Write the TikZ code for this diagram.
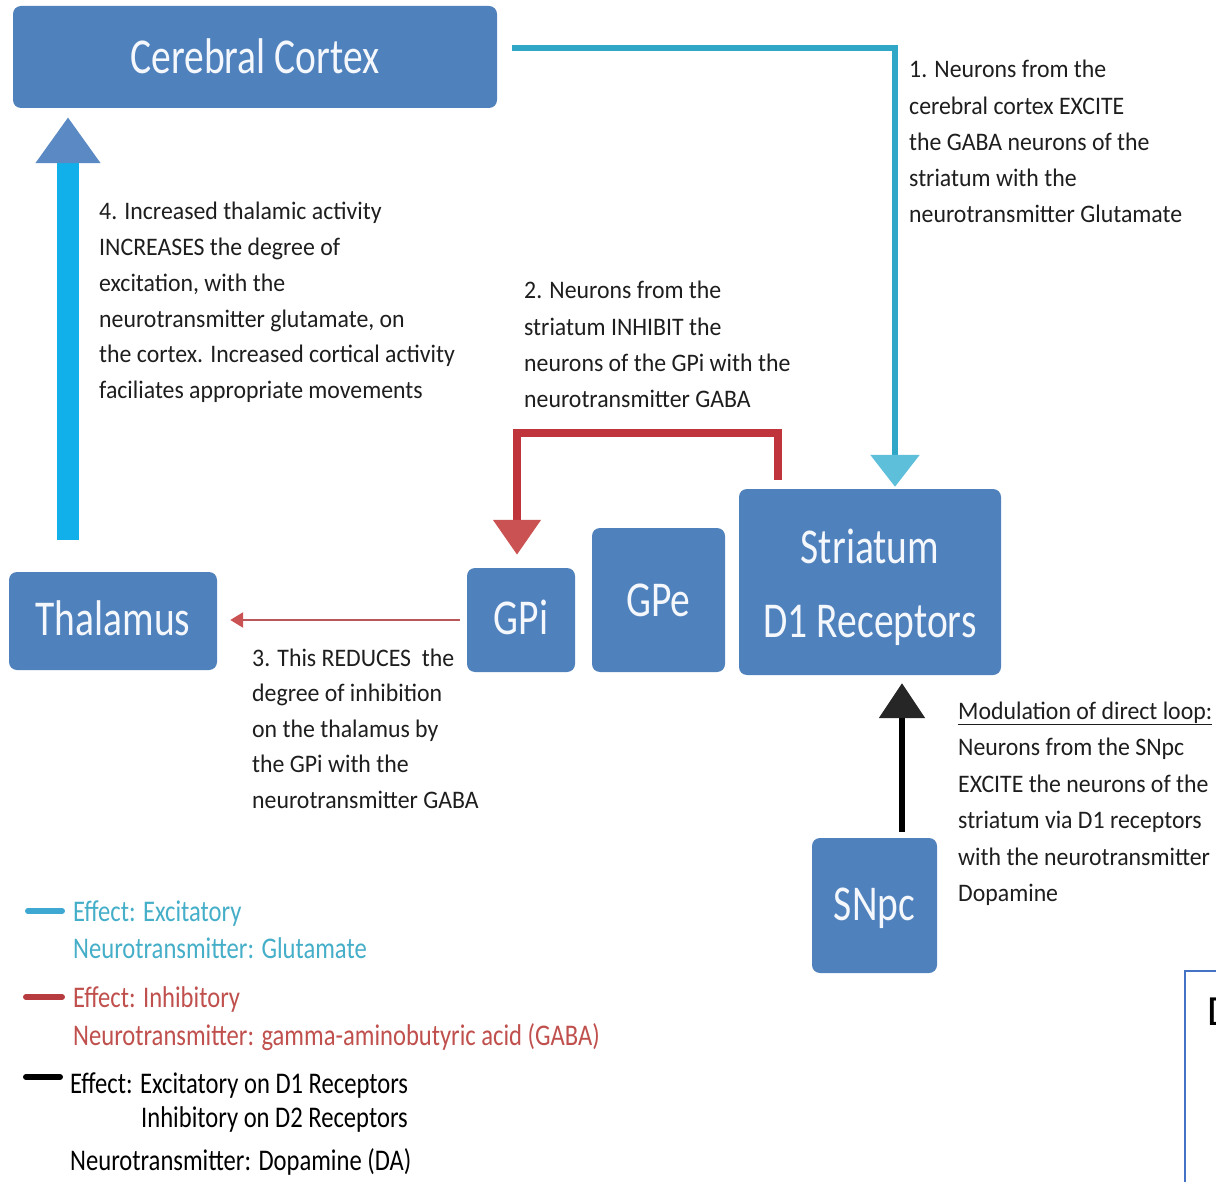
\documentclass[tikz,border=0pt]{standalone}
\usepackage{fontspec}
\setmainfont{Carlito}
\usepackage{graphicx}
\usetikzlibrary{arrows.meta}
\definecolor{boxblue}{HTML}{4F81BD}
\definecolor{boxtext}{HTML}{F4F7FB}
\definecolor{anntext}{HTML}{1E1E1E}
\definecolor{cyanline}{HTML}{31A7C8}
\definecolor{cyanbright}{HTML}{12B0EA}
\definecolor{cyanhead}{HTML}{5DBFDA}
\definecolor{bluehead}{HTML}{5A89C4}
\definecolor{redline}{HTML}{C0343C}
\definecolor{redhead}{HTML}{CB5252}
\definecolor{redthin}{HTML}{B9575A}
\definecolor{legcyan}{HTML}{3FA8D2}
\definecolor{legcyantext}{HTML}{45AEC8}
\definecolor{legred}{HTML}{B63C40}
\definecolor{legredtext}{HTML}{C0504D}
\definecolor{outlineblue}{HTML}{4472C4}
\newcommand{\boxlbl}[1]{\scalebox{1}[1.27]{\fontsize{39.5}{58}\selectfont\begin{tabular}{@{}c@{}}#1\end{tabular}}}
\newcommand{\lowered}[2]{\raisebox{-#1}[\height][\depth]{#2}}
\newcommand{\annot}[2]{\scalebox{1}[1.06]{\fontsize{23.8}{#1}\selectfont\begin{tabular}[t]{@{}l@{}}#2\end{tabular}}}
\newcommand{\legtxt}[1]{\scalebox{1}[1.22]{\fontsize{24.6}{30}\selectfont #1}}
\tikzset{
  box/.style={fill=boxblue, rounded corners=8pt, inner sep=0pt, text=boxtext},
  ann/.style={anchor=base west, inner sep=0pt, text=anntext},
  leg/.style={anchor=base west, inner sep=0pt},
  cyanthin/.style={draw=cyanline, line width=6pt, -{Triangle[width=48pt,length=32pt,color=cyanhead]}},
  cyanthick/.style={draw=cyanbright, line width=22pt, -{Triangle[width=62pt,length=46pt,color=bluehead]}},
  redthick/.style={draw=redline, line width=8pt, -{Triangle[width=46pt,length=35pt,color=redhead]}},
  redthinarr/.style={draw=redthin, line width=2.5pt, -{Triangle[width=15pt,length=13pt,color=redhead]}},
  blackarr/.style={draw=black, line width=6pt, -{Triangle[width=45pt,length=35pt,color=black!85]}},
  swatch/.style={line width=6pt, line cap=round},
}
\begin{document}
\begin{tikzpicture}[x=1pt,y=-1pt]
\useasboundingbox (0,0) rectangle (1216,1182);
\fill[white] (0,0) rectangle (1216,1182);

% boxes
\node[box, minimum width=484pt, minimum height=102pt] (cortex) at (255,57) {\lowered{2pt}{\boxlbl{Cerebral Cortex}}};
\node[box, minimum width=208pt, minimum height=98pt] (thal) at (113,621) {\boxlbl{Thalamus}};
\node[box, minimum width=108pt, minimum height=104pt] (gpi) at (521,620) {\boxlbl{GPi}};
\node[box, minimum width=133pt, minimum height=144pt] (gpe) at (658.5,600) {\lowered{2pt}{\boxlbl{GPe}}};
\node[box, minimum width=262pt, minimum height=186pt] (stri) at (870,582) {\lowered{4pt}{\boxlbl{Striatum\\D1 Receptors}}};
\node[box, minimum width=125pt, minimum height=135pt] (snpc) at (874.5,905.5) {\boxlbl{SNpc}};

% connectors
\draw[cyanthin] ([xshift=15pt]cortex.east |- 0,48) -| ([yshift=2pt]stri.north -| 895,0);
\draw[cyanthick] ([yshift=32pt]thal.north -| 68,0) -- ([yshift=-9pt]cortex.south -| 68,0);
\draw[redthick] ([yshift=9pt]stri.north -| 778,0) -- ++(0,-47) -| ([yshift=13pt]gpi.north -| 517,0);
\draw[redthinarr] ([xshift=-7pt]gpi.west |- 0,620) -- ([xshift=13pt]thal.east |- 0,620);
\draw[blackarr] ([yshift=6pt]snpc.north -| 902,0) -- ([yshift=-8pt]stri.south -| 902,0);

% annotations
\node[ann] (a1) at (909,78) {\annot{34}{1. Neurons from the\\cerebral cortex EXCITE\\the GABA neurons of the\\striatum with the\\neurotransmitter Glutamate}};
\node[ann] (a4) at (99,220) {\annot{33.7}{4. Increased thalamic activity\\INCREASES the degree of\\excitation, with the\\neurotransmitter glutamate, on\\the cortex. Increased cortical activity\\faciliates appropriate movements}};
\node[ann] (a2) at (524,299) {\annot{34}{2. Neurons from the\\striatum INHIBIT the\\neurons of the GPi with the\\neurotransmitter GABA}};
\node[ann] (a3) at (252,666) {\annot{33.5}{3. This REDUCES\ \ the\\degree of inhibition\\on the thalamus by\\the GPi with the\\neurotransmitter GABA}};
\node[ann] (a5) at (958,719) {\annot{34.5}{\underline{Modulation of direct loop:}\\Neurons from the SNpc\\EXCITE the neurons of the\\striatum via D1 receptors\\with the neurotransmitter\\Dopamine}};

% legend
\draw[swatch, legcyan] (28,911) -- (62,911);
\draw[swatch, legred] (26,997) -- (62,997);
\draw[swatch, black] (26,1077) -- (60,1077);
\node[leg, text=legcyantext] (l1) at (73,921) {\legtxt{Effect: Excitatory}};
\node[leg, text=legcyantext] (l2) at (73,958) {\legtxt{Neurotransmitter: Glutamate}};
\node[leg, text=legredtext] (l3) at (73,1007) {\legtxt{Effect: Inhibitory}};
\node[leg, text=legredtext] (l4) at (73,1045) {\legtxt{Neurotransmitter: gamma-aminobutyric acid (GABA)}};
\node[leg, text=black] (l5) at (70,1093) {\legtxt{Effect: Excitatory on D1 Receptors}};
\node[leg, text=black] (l6) at (141,1127) {\legtxt{Inhibitory on D2 Receptors}};
\node[leg, text=black] (l7) at (70,1170) {\legtxt{Neurotransmitter: Dopamine (DA)}};

% partial box at the bottom right edge (cut off by the picture's edge, as in the reference)
\draw[outlineblue, line width=1.5pt] (1185,1200) -- (1185,971) -- (1230,971);
\node[anchor=base west, inner sep=0pt] (dpart) at (1207,1025) {\fontsize{43}{50}\selectfont D};
\end{tikzpicture}
\end{document}
